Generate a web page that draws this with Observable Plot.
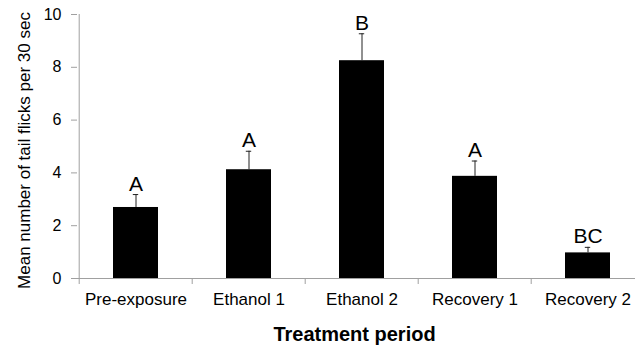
<!DOCTYPE html>
<html>
<head>
<meta charset="utf-8">
<script src="https://cdn.jsdelivr.net/npm/d3@7"></script>
<script src="https://cdn.jsdelivr.net/npm/@observablehq/plot@0.6"></script>
<style>
  html, body { margin: 0; padding: 0; background: #fff; overflow: hidden; }
  #chart { width: 635px; height: 349px; }
</style>
</head>
<body>
<div id="chart"></div>
<script>
const categories = ["Pre-exposure", "Ethanol 1", "Ethanol 2", "Recovery 1", "Recovery 2"];
const means = [2.69, 4.12, 8.25, 3.87, 0.97];
const errors = [0.49, 0.70, 1.02, 0.58, 0.21];
const letters = ["A", "A", "B", "A", "BC"];
const yTicks = [0, 2, 4, 6, 8, 10];

const data = categories.map((c, i) => ({
  period: c, mean: means[i], upper: means[i] + errors[i], letter: letters[i]
}));

const W = 635, H = 349;
const mL = 77, mR = -10, mT = 14, mB = 71;
const step = (W - mL - mR) / categories.length;
const axisGray = "#a0a0a0";

const chart = Plot.plot({
  width: W,
  height: H,
  marginLeft: mL,
  marginRight: mR,
  marginTop: mT,
  marginBottom: mB,
  style: { fontFamily: "Liberation Sans, Arial, sans-serif", color: "#000", background: "#fff", overflow: "visible" },
  x: { domain: categories, padding: 0, axis: null },
  y: { domain: [0, 10], axis: null },
  marks: [
    // y axis line
    Plot.ruleX([categories[0]], { x: d => d, dx: -step / 2, stroke: axisGray }),
    Plot.axisY({ ticks: yTicks, tickSize: 6, tickPadding: 10, stroke: axisGray, fontSize: 16, label: null }),
    // bars
    Plot.barY(data, { x: "period", y: "mean", fill: "#000", insetLeft: 34, insetRight: 34 }),
    // x axis line
    Plot.ruleY([0], { stroke: axisGray }),
    // boundary ticks
    Plot.axisX({ tickSize: 6, tickFormat: () => "", dx: -step / 2, stroke: axisGray, label: null }),
    Plot.axisX({ tickSize: 0, tickPadding: 14, fontSize: 17, label: null }),
    // error bars
    Plot.ruleX(data, { x: "period", y1: "mean", y2: "upper", stroke: "#222", strokeWidth: 1 }),
    Plot.tickY(data, { x: "period", y: "upper", stroke: "#222", strokeWidth: 1, insetLeft: step / 2 - 3, insetRight: step / 2 - 3 }),
    // significance letters
    Plot.text(data, { x: "period", y: "upper", text: "letter", lineAnchor: "bottom", dy: -4, fontSize: 21, fill: "#000" }),
    // axis titles
    Plot.text(["Mean number of tail flicks per 30 sec"], { frameAnchor: "left", textAnchor: "middle", rotate: -90, dx: -53, dy: 4, fontSize: 17, fill: "#000" }),
    Plot.text(["Treatment period"], { frameAnchor: "bottom", dy: 62, dx: -7, fontSize: 20, fontWeight: "bold", fill: "#000" })
  ]
});
document.getElementById("chart").appendChild(chart);
</script>
</body>
</html>
